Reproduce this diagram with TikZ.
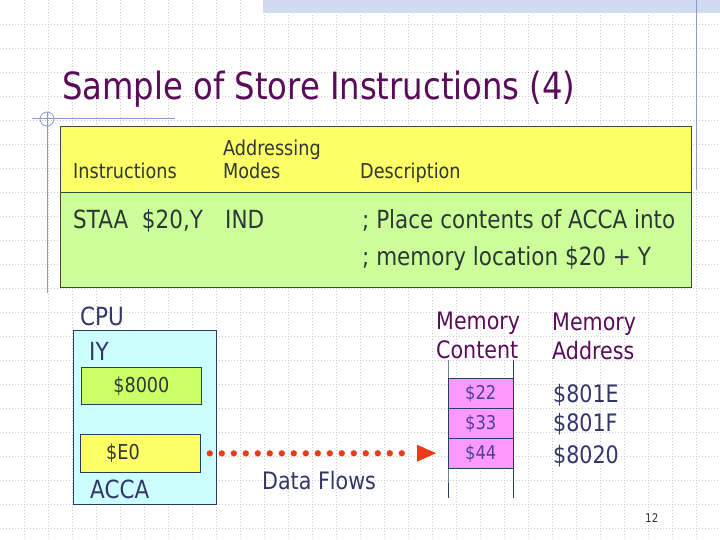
\documentclass[tikz,border=0pt]{standalone}
\usepackage{fontspec}
\setmainfont{DejaVu Sans}[FakeStretch=0.86]
\definecolor{titlecol}{RGB}{90,12,90}
\definecolor{gridcol}{RGB}{205,205,205}
\definecolor{bandcol}{RGB}{208,218,240}
\definecolor{decor}{RGB}{140,155,205}
\definecolor{tblborder}{RGB}{60,75,60}
\definecolor{hdrfill}{RGB}{255,255,102}
\definecolor{bodyfill}{RGB}{204,255,153}
\definecolor{tbltext}{RGB}{45,55,55}
\definecolor{cpufill}{RGB}{204,255,255}
\definecolor{cpuborder}{RGB}{45,60,90}
\definecolor{iyfill}{RGB}{204,255,102}
\definecolor{accafill}{RGB}{255,255,102}
\definecolor{slate}{RGB}{50,55,105}
\definecolor{cellfill}{RGB}{255,153,255}
\definecolor{celltext}{RGB}{75,65,155}
\definecolor{flowcol}{RGB}{238,58,22}
\newcommand{\fs}[1]{\fontsize{#1}{#1}\selectfont}
\begin{document}
\begin{tikzpicture}[x=1pt,y=-1pt,
  gridline/.style={draw=gridcol,line width=0.6pt,dash pattern=on 1pt off 2pt},
  txt/.style={inner sep=0pt,anchor=base west},
  tbl/.style={txt,text=tbltext},
  hdr/.style={tbl,font=\fs{20.5}},
  bod/.style={tbl,font=\fs{25}},
  cpulbl/.style={txt,text=slate,font=\fs{25}},
  memhdr/.style={txt,text=titlecol,font=\fs{24}},
  addr/.style={txt,text=slate,font=\fs{24}},
  cell/.style={draw=cpuborder,fill=cellfill,minimum width=65pt,minimum height=30pt,inner sep=0pt,anchor=north west,text=celltext,font=\fs{19}},
  regbox/.style={draw=cpuborder,line width=0.8pt,inner sep=0pt,anchor=north west,font=\fs{20.5},text=tbltext},
  flow/.style={draw=flowcol,line width=6.3pt,line cap=round,dash pattern=on 0pt off 12pt,shorten <=9pt,shorten >=35pt}
]
\useasboundingbox (0,0) rectangle (720,540);
\fill[white] (0,0) rectangle (720,540);
% grid
\foreach \i in {1,...,29} \draw[gridline] (\i*24,0) -- (\i*24,540);
\foreach \j in {1,...,22} \draw[gridline] (0,\j*24) -- (720,\j*24);
% decorations
\fill[bandcol] (263,0) rectangle (720,13);
\draw[decor,line width=0.9pt] (696,0) -- (696,190);
\draw[decor,line width=0.9pt] (32,118) -- (175,118);
\draw[decor,line width=0.9pt] (47,112) -- (47,293);
\draw[decor,line width=0.8pt] (47,119) circle (7);
% title
\node[txt,text=titlecol,font=\fs{37.5}] (title) at (62,100) {Sample of Store Instructions (4)};
% table
\node[draw=tblborder,fill=hdrfill,line width=0.9pt,anchor=north west,minimum width=631pt,minimum height=66pt,inner sep=0pt] (head) at (60,126) {};
\node[draw=tblborder,fill=bodyfill,line width=0.9pt,anchor=north west,minimum width=631pt,minimum height=95pt,inner sep=0pt] (body) at (60,192) {};
\node[hdr] (h1) at (73,178.5) {Instructions};
\node[hdr] (h2a) at (223,155.5) {Addressing};
\node[hdr] (h2b) at (223,178.5) {Modes};
\node[hdr] (h3) at (360,178.5) {Description};
\node[bod] (b1) at (73,229) {STAA\ \ \$20,Y};
\node[bod] (b2) at (225,229) {IND};
\node[bod] (b3a) at (362,229) {; Place contents of ACCA into};
\node[bod] (b3b) at (362,265) {; memory location \$20 + Y};
% CPU
\node[cpulbl] (cpu) at (80,325) {CPU};
\node[regbox,fill=cpufill,minimum width=143pt,minimum height=174pt] (cpubox) at (73,330) {};
\node[cpulbl] (iy) at (89,360) {IY};
\node[regbox,fill=iyfill,minimum width=120pt,minimum height=37pt] (iyreg) at (81,367) {\$8000};
\node[regbox,fill=accafill,minimum width=120pt,minimum height=38pt] (e0) at (80,434) {};
\node[txt,font=\fs{20.5},text=tbltext,anchor=west] (e0txt) at ([xshift=26pt]e0.west) {\$E0};
\node[cpulbl] (acca) at (90,498) {ACCA};
% memory
\node[memhdr] (mc1) at (436,329) {Memory};
\node[memhdr] (mc2) at (436,358) {Content};
\node[memhdr] (ma1) at (552,330) {Memory};
\node[memhdr] (ma2) at (552,359) {Address};
\node[cell] (c22) at (448,378) {\$22};
\node[cell] (c33) at (448,408) {\$33};
\node[cell] (c44) at (448,438) {\$44};
\draw[cpuborder,line width=0.9pt] (c22.north west) ++(0,-18) coordinate (ml) -- (c44.south west) -- ++(0,30);
\draw[cpuborder,line width=0.9pt] (c22.north east) ++(0,-18) coordinate (mr) -- (c44.south east) -- ++(0,30);
\node[addr] (a1) at (553,402) {\$801E};
\node[addr] (a2) at (553,431) {\$801F};
\node[addr] (a3) at (553,463) {\$8020};
% data flow
\draw[flow] (e0.east) -- (c44.west);
\fill[flowcol] ([xshift=-12pt]c44.west) -- ++(-19,-8.5) -- ++(0,17) -- cycle;
\node[txt,text=slate,font=\fs{24}] (df) at (262,489.5) {Data Flows};
% page number
\node[txt,text=tbltext,font=\fs{12}] (pg) at (645,522) {12};
\end{tikzpicture}
\end{document}
